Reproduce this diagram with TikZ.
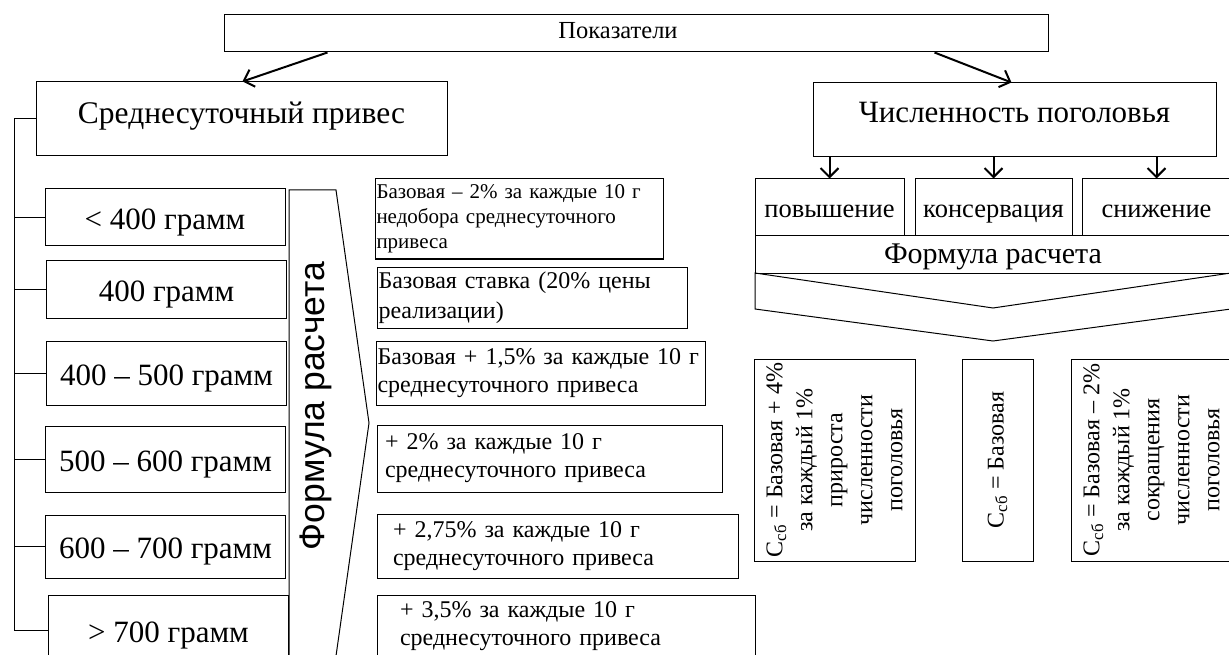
\documentclass[tikz,border=0pt]{standalone}
\usepackage{fontspec}
\setmainfont{Liberation Serif}
\newfontfamily\arialfont{Liberation Sans}
\usetikzlibrary{arrows.meta}
\newcommand{\fsz}[2]{\fontsize{#1}{#2}\selectfont}
\begin{document}
\begin{tikzpicture}[x=1pt, y=-1pt,
                    mbox/.style = {shape = rectangle,
                                   draw,
                                   line width = 1pt,
                                   inner sep = 0pt},
                    gbox/.style = {mbox, minimum width = 240pt, font = \fsz{31}{36},
                                   text height = 30pt, text depth = 6pt},
                    fbox/.style = {mbox, align = left, font = \fsz{24}{28}},
                    vbox/.style = {mbox, minimum height = 57pt, font = \fsz{26.5}{32},
                                   text height = 21pt, text depth = 0pt},
                    rbox/.style = {mbox, rotate = 90, minimum width = 202pt,
                                   align = center, font = \fsz{24}{30}},
                    arr/.style = {-{Straight Barb[length=9pt,width=18pt]}, line width = 2pt}]
		\useasboundingbox (0,0) rectangle (1229,655);
		\clip (0,0) rectangle (1229,655);
		% top
		\node[mbox, minimum width=824pt, minimum height=37pt] (pok) at (636,33.5) {};
		\node[font=\fsz{24.5}{28}, inner sep=0pt, text height=16pt, text depth=5pt] (pokt) at (618,33.5) {Показатели};
		\node[mbox, minimum width=411pt, minimum height=74pt, font=\fsz{31.5}{36},
		      text height=21pt, text depth=11pt] (sp) at (241.5,119) {Среднесуточный привес};
		\node[mbox, minimum width=403pt, minimum height=74pt, font=\fsz{31}{36},
		      text height=21pt, text depth=15pt] (chp) at (1014.5,120) {Численность поголовья};
		\draw[arr] ([xshift=104pt]pok.south west) -- ([xshift=207pt]sp.north west);
		\draw[arr] ([xshift=711pt]pok.south west) -- ([xshift=199pt]chp.north west);
		% left column
		\node[gbox, minimum height=57pt] (g1) at (165,217.5) {< 400 грамм};
		\node[gbox, minimum height=58pt] (g2) at (166.5,289) {400 грамм};
		\node[gbox, minimum height=64pt] (g3) at (166.5,373) {400 – 500 грамм};
		\node[gbox, minimum height=66pt] (g4) at (165.5,459) {500 – 600 грамм};
		\node[gbox, minimum height=63pt] (g5) at (165.5,546.5) {600 – 700 грамм};
		\node[gbox, minimum height=70pt] (g6) at (168.5,630) {> 700 грамм};
		\coordinate (rail) at (14,119);
		\draw[line width=1pt] (sp.west) -- (sp.west -| rail) |- (g6.west);
		\foreach \n in {g1,g2,g3,g4,g5}
			\draw[line width=1pt] (\n.west -| rail) -- (\n.west);
		\draw[line width=1pt] (289,190) -- (336,190) -- (369,423) -- (336,656) -- (289,656) -- cycle;
		\node[rotate=90, font=\arialfont\fsz{35.5}{40}] (fl) at (316,406) {Формула расчета};
		\node[fbox, text width=285pt, inner xsep=1.5pt, minimum height=80pt, font=\fsz{21}{25}] (f1) at (519,219)
			{Базовая – 2\% за каждые 10 г\\недобора среднесуточного\\привеса};
		\node[fbox, text width=307pt, inner xsep=1.5pt, minimum height=61pt, font=\fsz{24}{30}] (f2) at (532,297.5)
			{Базовая ставка (20\% цены\\реализации)};
		\node[fbox, text width=326pt, inner xsep=1.5pt, minimum height=64pt] (f3) at (540.5,373)
			{Базовая + 1,5\% за каждые 10 г\\среднесуточного привеса};
		\node[fbox, text width=329pt, inner xsep=8pt, minimum height=67pt] (f4) at (549.5,458.5)
			{+ 2\% за каждые 10 г\\среднесуточного привеса};
		\node[fbox, text width=329pt, inner xsep=16pt, minimum height=64pt] (f5) at (557.5,546)
			{+ 2,75\% за каждые 10 г\\среднесуточного привеса};
		\node[fbox, text width=332pt, inner xsep=23pt, minimum height=62pt] (f6) at (566,626)
			{+ 3,5\% за каждые 10 г\\среднесуточного привеса};
		% right column
		\node[vbox, minimum width=149pt] (pov) at (829.5,207.5) {повышение};
		\node[vbox, minimum width=157pt] (kon) at (993.5,207.5) {консервация};
		\node[vbox, minimum width=149pt] (sni) at (1156.5,207.5) {снижение};
		\foreach \n in {pov,kon,sni}
			\draw[arr] (chp.south -| \n.north) -- (\n.north);
		\node[mbox, minimum width=476pt, minimum height=37pt, font=\fsz{30}{34},
		      text height=20pt, text depth=1pt] (fr) at (993,254.5) {Формула расчета};
		\draw[line width=1pt] (755,273) -- (755,309) -- (993,341) -- (1231,309) -- (1231,273) -- (993,308) -- cycle;
		\node[rbox, minimum height=161pt] (ra) at (834.5,460)
			{С\textsubscript{сб} = Базовая + 4\%\\за каждый 1\%\\прироста\\численности\\поголовья};
		\node[rbox, minimum height=71pt] (rb) at (997.5,460) {С\textsubscript{сб} = Базовая};
		\node[rbox, minimum height=161pt] (rc) at (1151.5,460)
			{С\textsubscript{сб} = Базовая – 2\%\\за каждый 1\%\\сокращения\\численности\\поголовья};
	\end{tikzpicture}
\end{document}
